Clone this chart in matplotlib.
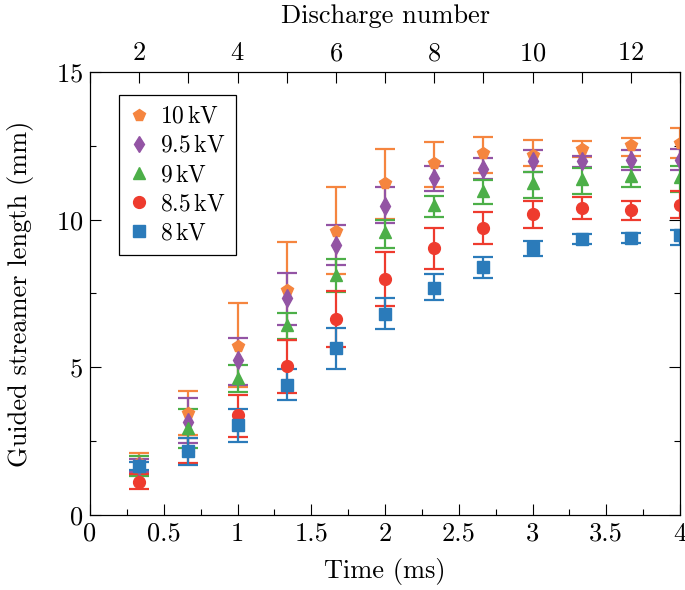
import numpy as np
import matplotlib
matplotlib.use("Agg")
import matplotlib.pyplot as plt
from matplotlib.lines import Line2D
from matplotlib.ticker import MultipleLocator

plt.rcParams['font.family'] = 'serif'
plt.rcParams['font.serif'] = ['cmr10']
plt.rcParams['mathtext.fontset'] = 'cm'
plt.rcParams['axes.formatter.use_mathtext'] = True
plt.rcParams['font.size'] = 19

# time of each discharge (ms), discharges 2..13
time_ms = [0.333, 0.667, 1.0, 1.333, 1.667, 2.0, 2.333, 2.667, 3.0, 3.333, 3.667, 4.0]

labels = ['10', '9.5', '9', '8.5', '8']

mean_10 = [1.75, 3.44, 5.72, 7.62, 9.63, 11.23, 11.91, 12.25, 12.19, 12.38, 12.52, 12.60]
hi_10 = [2.09, 4.20, 7.17, 9.26, 11.12, 12.38, 12.63, 12.80, 12.70, 12.67, 12.76, 13.09]
lo_10 = [1.41, 2.71, 4.33, 5.93, 8.15, 10.01, 11.12, 11.59, 11.80, 12.13, 12.16, 12.08]

mean_95 = [1.67, 3.16, 5.25, 7.34, 9.14, 10.47, 11.40, 11.73, 11.99, 11.99, 12.02, 12.02]
hi_95 = [1.89, 3.95, 6.01, 8.21, 9.82, 11.10, 11.82, 12.08, 12.36, 12.17, 12.36, 12.38]
lo_95 = [1.45, 2.43, 4.40, 6.43, 8.47, 9.88, 10.97, 11.37, 11.60, 11.77, 11.68, 11.68]

mean_9 = [1.67, 2.94, 4.63, 6.43, 8.13, 9.59, 10.50, 10.98, 11.23, 11.37, 11.48, 11.46]
hi_9 = [2.01, 3.58, 5.08, 6.85, 8.66, 9.99, 10.81, 11.34, 11.63, 11.74, 11.77, 11.82]
lo_9 = [1.33, 2.27, 4.18, 5.95, 7.56, 9.05, 10.08, 10.53, 10.75, 10.86, 11.12, 10.92]

mean_85 = [1.12, 2.18, 3.37, 5.05, 6.63, 7.99, 9.03, 9.71, 10.19, 10.41, 10.33, 10.50]
hi_85 = [1.38, 2.62, 4.06, 5.93, 7.59, 8.89, 9.73, 10.26, 10.64, 10.78, 10.64, 10.97]
lo_85 = [0.88, 1.75, 2.65, 4.14, 5.68, 7.08, 8.32, 9.17, 9.73, 10.02, 9.99, 10.06]

mean_8 = [1.65, 2.16, 3.05, 4.40, 5.64, 6.81, 7.70, 8.39, 9.03, 9.34, 9.39, 9.48]
hi_8 = [1.79, 2.60, 3.59, 4.93, 6.33, 7.34, 8.16, 8.73, 9.29, 9.51, 9.56, 9.65]
lo_8 = [1.52, 1.69, 2.48, 3.89, 4.93, 6.29, 7.28, 8.01, 8.77, 9.17, 9.22, 9.14]

means = [mean_10, mean_95, mean_9, mean_85, mean_8]
his = [hi_10, hi_95, hi_9, hi_85, hi_8]
los = [lo_10, lo_95, lo_9, lo_85, lo_8]
colors = ['#f5853f', '#9354a4', '#4caf48', '#ee3b2e', '#2b7bba']
markers = ['p', 'd', '^', 'o', 's']

fig = plt.figure(figsize=(6.85, 5.9), dpi=100)
ax = fig.add_axes([0.1314, 0.1271, 0.8613, 0.7509])

for m, hi, lo, c, mk in zip(means, his, los, colors, markers):
    m = np.array(m)
    yerr = [m - np.array(lo), np.array(hi) - m]
    ax.errorbar(time_ms, m, yerr=yerr, fmt=mk, color=c, ms=8.5 if mk != 'd' else 9,
                elinewidth=1.6, capsize=7.5, capthick=1.6)

ax.set_xlim(0, 4)
ax.set_ylim(0, 15)
ax.xaxis.set_major_locator(MultipleLocator(0.5))
ax.xaxis.set_minor_locator(MultipleLocator(0.25))
ax.yaxis.set_major_locator(MultipleLocator(5))
ax.yaxis.set_minor_locator(MultipleLocator(2.5))
ax.tick_params(which='both', direction='in', right=True, top=False)
ax.tick_params(which='major', length=8, width=0.8, pad=5)
ax.tick_params(which='minor', length=4.5, width=0.8)
ax.xaxis.set_major_formatter(plt.FuncFormatter(lambda v, p: ('%g' % v)))
ax.set_xlabel('Time (ms)')
ax.set_ylabel('Guided streamer length (mm)')
ax.xaxis.set_label_coords(0.5, -0.098)
ax.yaxis.set_label_coords(-0.095, 0.5)

top = ax.twiny()
top.set_xlim(1, 13)
top.xaxis.set_major_locator(MultipleLocator(2))
top.xaxis.set_minor_locator(MultipleLocator(1))
top.tick_params(which='both', direction='in', length=8, width=0.8, pad=5)
top.set_xlabel('Discharge number')
top.xaxis.set_label_coords(0.5, 1.11)

handles = [Line2D([], [], ls='none', marker=mk, color=c, ms=8.5)
           for mk, c in zip(markers, colors)]
leg = ax.legend(handles, [r'$%s\,\mathrm{kV}$' % l for l in labels],
                loc='upper left', bbox_to_anchor=(0.049, 0.948), borderaxespad=0,
                fancybox=False, edgecolor='black', framealpha=1, handletextpad=0.5,
                borderpad=0.45, labelspacing=0.3, handlelength=0.8, fontsize=17)
leg.get_frame().set_linewidth(0.9)

fig.savefig('out.png', dpi=100)
